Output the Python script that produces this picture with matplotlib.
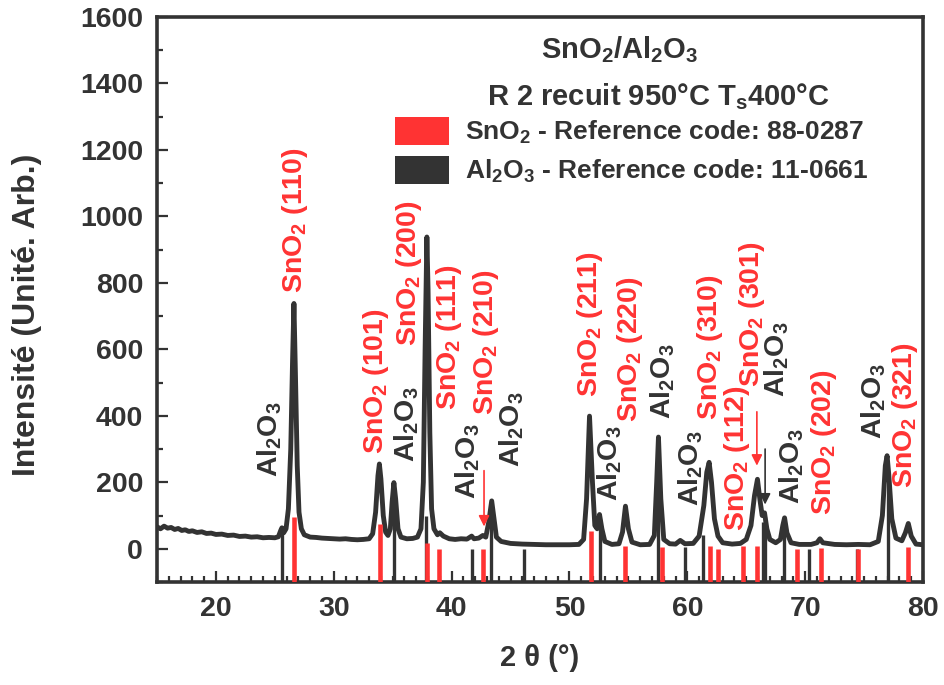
import matplotlib
matplotlib.use('Agg')
import matplotlib.pyplot as plt
from matplotlib.patches import Patch
from matplotlib.ticker import MultipleLocator

plt.rcParams['font.family'] = ['Liberation Sans', 'DejaVu Sans']
plt.rcParams['font.weight'] = 'bold'

DARK = '#333333'
RED = '#FF3333'

# ---- measured XRD pattern (2theta, intensity) ----
two_theta = [15.0, 15.3, 15.6, 15.9, 16.2, 16.5, 16.8, 17.1, 17.4, 17.7, 18.0, 18.4, 18.8, 19.2,
             19.6, 20.0, 20.5, 21.0, 21.5, 22.0, 22.5, 23.0, 23.5, 24.0, 24.5, 25.0, 25.3, 25.5,
             25.6, 25.75, 25.95, 26.15, 26.35, 26.5, 26.62, 26.75, 26.9, 27.05, 27.25, 27.5, 28.0,
             28.5, 29.0, 29.5, 30.0, 30.5, 31.0, 31.5, 32.0, 32.5, 33.0, 33.3, 33.55, 33.75, 33.87,
             34.0, 34.2, 34.4, 34.6, 34.8, 34.95, 35.1, 35.25, 35.45, 35.7, 36.2, 36.7, 37.1, 37.4,
             37.6, 37.75, 37.9, 38.0, 38.15, 38.3, 38.5, 38.8, 39.0, 39.3, 39.8, 40.3, 40.8, 41.3,
             41.7, 41.9, 42.3, 42.65, 42.9, 43.15, 43.4, 43.6, 43.8, 44.2, 45.0, 46.0, 47.0, 48.0,
             49.0, 50.0, 50.8, 51.2, 51.45, 51.7, 51.95, 52.15, 52.35, 52.55, 52.75, 53.0, 53.6,
             54.2, 54.5, 54.75, 55.0, 55.3, 56.0, 56.8, 57.2, 57.4, 57.55, 57.75, 58.0, 58.5, 59.0,
             59.4, 59.8, 60.5, 61.0, 61.4, 61.65, 61.85, 62.05, 62.3, 62.6, 63.0, 63.8, 64.5, 65.0,
             65.4, 65.7, 65.95, 66.15, 66.35, 66.55, 66.75, 67.0, 67.5, 67.9, 68.1, 68.25, 68.45,
             68.8, 69.5, 70.5, 71.0, 71.25, 71.5, 72.5, 73.5, 74.5, 75.5, 76.2, 76.55, 76.8, 76.95,
             77.1, 77.35, 77.7, 78.2, 78.5, 78.75, 79.0, 79.4, 80.0]
intensity = [66, 60, 68, 62, 64, 58, 61, 55, 57, 52, 54, 49, 51, 46,
             47, 43, 44, 40, 41, 37, 38, 35, 36, 33, 34, 33, 36, 55,
             63, 48, 60, 120, 300, 560, 738, 520, 250, 110, 60, 42, 35,
             34, 32, 31, 30, 29, 30, 28, 27, 28, 30, 45, 110, 220, 255,
             210, 100, 50, 40, 60, 140, 199, 150, 60, 35, 30, 31, 35, 60,
             200, 600, 938, 780, 350, 120, 60, 42, 48, 38, 30, 28, 30, 29,
             38, 30, 32, 40, 35, 80, 144, 90, 35, 22, 16, 14, 13, 12,
             12, 12, 13, 28, 150, 399, 200, 70, 60, 103, 60, 22, 13,
             15, 50, 128, 60, 20, 12, 13, 40, 200, 336, 150, 28, 15, 14,
             25, 15, 16, 38, 130, 230, 260, 200, 90, 38, 18, 14, 16, 28,
             70, 160, 209, 150, 100, 108, 60, 28, 18, 28, 70, 93, 48,
             18, 13, 13, 18, 30, 18, 13, 12, 13, 12, 22, 100, 250, 280,
             220, 90, 32, 24, 48, 76, 38, 14, 12]

# ---- reference patterns (position, top of stick; sticks start at -100) ----
sno2_ref_pos = [26.6, 33.9, 37.95, 38.97, 42.65, 51.8, 54.75, 57.85, 61.9, 62.6,
                64.75, 65.95, 69.3, 71.3, 74.5, 78.75]
sno2_ref_top = [97, 73, 18, 0, 0, 52, 9, 4, 7, 0, 7, 7, 0, 3, 0, 4]
al2o3_ref_pos = [25.6, 35.15, 37.8, 41.7, 43.35, 46.1, 52.55, 57.5, 59.8, 61.3,
                 66.4, 66.6, 68.2, 70.3, 74.4, 77.05]
al2o3_ref_top = [68, 150, 100, 0, 120, 0, 90, 250, 5, 40, 80, 95, 80, 0, 0, 200]

# ---- peak labels ----
SN = r'SnO$\mathregular{_2}$'
AL = r'Al$\mathregular{_2}$O$\mathregular{_3}$'
label_text = [AL, SN + ' (110)', SN + ' (101)', AL, SN + ' (200)', SN + ' (111)', AL,
              SN + ' (210)', AL, SN + ' (211)', AL, SN + ' (220)', AL, AL, SN + ' (310)',
              SN + ' (112)', SN + ' (301)', AL, AL, SN + ' (202)', AL, SN + ' (321)']
label_x = [24.6, 26.75, 33.6, 36.2, 36.4, 39.8, 41.4, 42.9, 45.1, 51.75, 53.45, 55.1,
           57.9, 60.25, 61.95, 64.2, 65.45, 67.6, 68.85, 71.6, 75.8, 78.5]
label_y = [216, 771, 285, 260, 609, 417, 149, 401, 245, 457, 144, 381, 391, 128,
           386, 53, 488, 457, 134, 103, 331, 184]
label_color = [DARK, RED, RED, DARK, RED, RED, DARK, RED, DARK, RED, DARK, RED,
               DARK, DARK, RED, RED, RED, DARK, DARK, RED, DARK, RED]

# ---- arrows ----
arrow_x = [42.75, 65.9, 66.6]
arrow_from = [235, 412, 300]
arrow_to = [67, 250, 133]
arrow_color = [RED, RED, DARK]

fig = plt.figure(figsize=(9.44, 6.85), dpi=100)
ax = fig.add_axes([0.1663, 0.1504, 0.8115, 0.8248])

ax.vlines(al2o3_ref_pos, -100, al2o3_ref_top, color=DARK, lw=2.4, zorder=1)
ax.plot(two_theta, intensity, color=DARK, lw=3.5, zorder=2, solid_joinstyle='round')
ax.vlines(sno2_ref_pos, -100, sno2_ref_top, color=RED, lw=3.3, zorder=3)

for t, x, y, c in zip(label_text, label_x, label_y, label_color):
    ax.text(x, y, t, rotation=90, ha='center', va='bottom', color=c,
            fontsize=20.5, fontweight='bold', zorder=4)

for x, y0, y1, c in zip(arrow_x, arrow_from, arrow_to, arrow_color):
    ax.annotate('', xy=(x, y1), xytext=(x, y0),
                arrowprops=dict(arrowstyle='-|>', color=c, lw=1.2, mutation_scale=16,
                                shrinkA=0, shrinkB=0), zorder=5)

ax.text(0.604, 0.927, r'SnO$\mathregular{_2}$/Al$\mathregular{_2}$O$\mathregular{_3}$',
        transform=ax.transAxes, ha='center', va='baseline', fontsize=21, color=DARK)
ax.text(0.655, 0.844, r'R 2 recuit 950°C T$\mathregular{_s}$400°C',
        transform=ax.transAxes, ha='center', va='baseline', fontsize=21, color=DARK)

handles = [Patch(facecolor=RED, edgecolor='none'), Patch(facecolor=DARK, edgecolor='none')]
labels = [r'SnO$\mathregular{_2}$ - Reference code: 88-0287',
          r'Al$\mathregular{_2}$O$\mathregular{_3}$ - Reference code: 11-0661']
leg = ax.legend(handles, labels, loc='upper left', bbox_to_anchor=(0.3107, 0.823),
                frameon=False, fontsize=19, handlelength=2.05, handleheight=1.25,
                handletextpad=0.6, labelspacing=0.38, borderpad=0, borderaxespad=0)
for txt in leg.get_texts():
    txt.set_color(DARK)

ax.set_xlim(15, 80)
ax.set_ylim(-100, 1600)
ax.xaxis.set_major_locator(MultipleLocator(10))
ax.xaxis.set_minor_locator(MultipleLocator(1))
ax.yaxis.set_major_locator(MultipleLocator(200))
ax.yaxis.set_minor_locator(MultipleLocator(100))
ax.tick_params(which='both', direction='in', color=DARK, labelcolor=DARK,
               top=False, right=False)
ax.tick_params(which='major', length=8, width=1.6, labelsize=20.5, pad=10)
ax.tick_params(which='minor', length=4.5, width=1.6)
for lab in ax.get_xticklabels() + ax.get_yticklabels():
    lab.set_fontweight('bold')
for sp in ax.spines.values():
    sp.set_linewidth(2.6)
    sp.set_color(DARK)

ax.set_xlabel('2 θ (°)', fontsize=21, fontweight='bold', color=DARK, labelpad=16)
ax.set_ylabel('Intensité (Unité. Arb.)', fontsize=23, fontweight='bold', color=DARK)
ax.yaxis.set_label_coords(-0.150, 0.4726)

fig.savefig('out.png', dpi=100)
